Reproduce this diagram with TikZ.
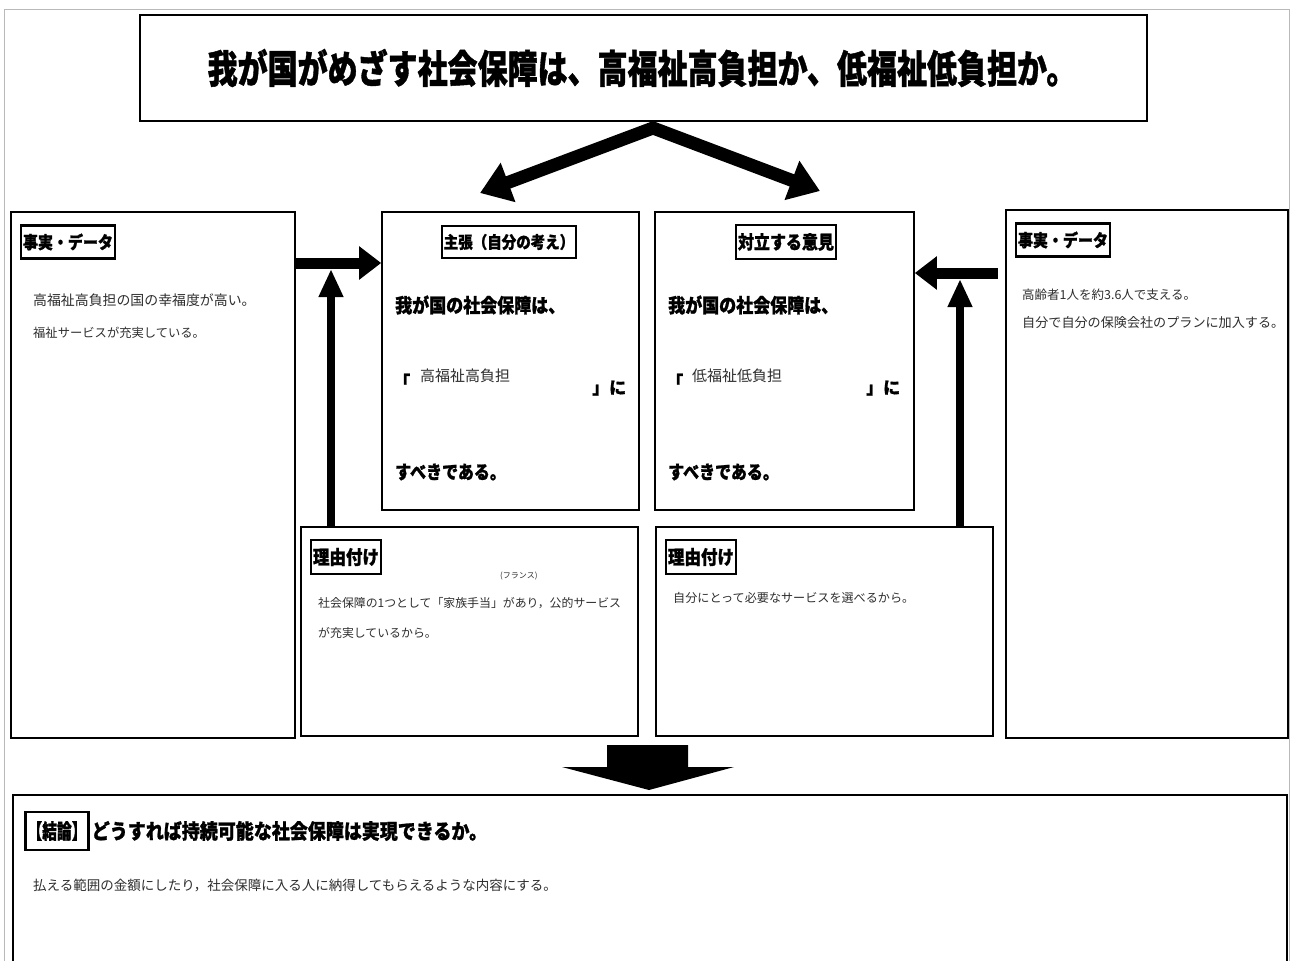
\documentclass[tikz,border=0pt]{standalone}
\usepackage{fontspec}
\setmainfont{Noto Sans CJK JP}
\usetikzlibrary{arrows.meta}
\newcommand\fsz[1]{\fontsize{#1pt}{#1pt}\selectfont}
\newcommand\heavy{\bfseries\addfontfeature{FakeBold=1.2}}
\begin{document}
\begin{tikzpicture}[x=1pt,y=-1pt,
  frame/.style={draw,line width=1.6pt,inner sep=0pt},
  lab/.style={draw,line width=2.2pt,inner xsep=2pt,inner ysep=8pt},
  hand/.style={anchor=west,inner sep=0pt,text=black!82},
  bold/.style={anchor=west,inner sep=0pt},
  bigarrow/.style={line width=13pt,line join=miter,{Triangle[length=30pt,width=40pt]}-{Triangle[length=30pt,width=40pt]}},
  harrow/.style={line width=11pt,-{Triangle[length=22pt,width=32pt]}},
  varrow/.style={line width=7.5pt,-{Triangle[length=28pt,width=23pt]}}]
\useasboundingbox (0,0) rectangle (1291,961);
\clip (0,0) rectangle (1291,961);
\fill[white] (0,0) rectangle (1291,961);
\draw[gray!55,line width=1pt] (4,9) rectangle (1289,975);

% title
\node[frame,minimum width=1007pt,minimum height=106pt] (title) at (643.5,68) {};
\node[font=\heavy\fsz{30}] (titletext) at (642,68) {\scalebox{1}[1.3]{我が国がめざす社会保障は、高福祉高負担か、低福祉低負担か。}};

% main boxes
\node[frame,minimum width=284pt,minimum height=526pt] (factL) at (153,475) {};
\node[frame,minimum width=257pt,minimum height=298pt] (claim) at (510.5,361) {};
\node[frame,minimum width=259pt,minimum height=298pt] (oppose) at (784.5,361) {};
\node[frame,minimum width=282pt,minimum height=528pt] (factR) at (1147,474) {};
\node[frame,minimum width=337pt,minimum height=209pt] (reasonL) at (469.5,631.5) {};
\node[frame,minimum width=337pt,minimum height=209pt] (reasonR) at (824.5,631.5) {};
\node[frame,minimum width=1274pt,minimum height=200pt] (concl) at (650,895) {};

% labels
\node[lab,font=\heavy\fsz{15}] (labFL) at (68,242) {\scalebox{1}[1.15]{事実・データ}};
\node[lab,font=\heavy\fsz{15}] (labFR) at (1063,240) {\scalebox{1}[1.15]{事実・データ}};
\node[lab,font=\heavy\fsz{14.5}] (labC) at (509,242) {\scalebox{1}[1.15]{主張（自分の考え）}};
\node[lab,font=\heavy\fsz{16}] (labO) at (786,242) {\scalebox{1}[1.15]{対立する意見}};
\node[lab,font=\heavy\fsz{16.5}] (labRL) at (346,557) {\scalebox{1}[1.15]{理由付け}};
\node[lab,font=\heavy\fsz{16.5}] (labRR) at (701,557) {\scalebox{1}[1.15]{理由付け}};
\node[lab,inner ysep=9pt,font=\heavy\fsz{18}] (labK) at (57,831) {\scalebox{0.82}[1.15]{【結論】}};
\node[bold,font=\heavy\fsz{18}] (concltitle) at ([xshift=2pt]labK.east) {\scalebox{1}[1.15]{どうすれば持続可能な社会保障は実現できるか。}};

% fact left
\node[hand,font=\fsz{13.9}] (fl1) at (33,300) {高福祉高負担の国の幸福度が高い。};
\node[hand,font=\fsz{12.3}] (fl2) at (33,333) {福祉サービスが充実している。};
% fact right
\node[hand,font=\fsz{12.5}] (fr1) at (1022,295) {高齢者1人を約3.6人で支える。};
\node[hand,font=\fsz{13.1}] (fr2) at (1022,323) {自分で自分の保険会社のプランに加入する。};

% claim
\node[bold,font=\heavy\fsz{17}] (c1) at (395,305) {\scalebox{1}[1.15]{我が国の社会保障は、}};
\node[bold,font=\heavy\fsz{17}] (c2) at (393,381) {「};
\node[hand,font=\fsz{15}] (c3) at (420,376) {高福祉高負担};
\node[bold,font=\heavy\fsz{17}] (c4) at (592,388) {」に};
\node[bold,font=\heavy\fsz{16}] (c5) at (395,472) {\scalebox{1}[1.15]{すべきである。}};
% oppose
\node[bold,font=\heavy\fsz{17}] (o1) at (668,305) {\scalebox{1}[1.15]{我が国の社会保障は、}};
\node[bold,font=\heavy\fsz{17}] (o2) at (666,381) {「};
\node[hand,font=\fsz{15}] (o3) at (692,376) {低福祉低負担};
\node[bold,font=\heavy\fsz{17}] (o4) at (866,388) {」に};
\node[bold,font=\heavy\fsz{16}] (o5) at (668,472) {\scalebox{1}[1.15]{すべきである。}};

% reasons
\node[hand,font=\fsz{8}] (ruby) at (500,576) {(フランス)};
\node[hand,font=\fsz{11.9}] (rl1) at (318,603) {社会保障の1つとして「家族手当」があり，公的サービス};
\node[hand,font=\fsz{11.9}] (rl2) at (318,633) {が充実しているから。};
\node[hand,font=\fsz{12.1}] (rr1) at (673,598) {自分にとって必要なサービスを選べるから。};

% conclusion text
\node[hand,font=\fsz{13.5}] (k1) at (33,886) {払える範囲の金額にしたり，社会保障に入る人に納得してもらえるような内容にする。};

% arrows
\coordinate (split) at (653,128);
\coordinate (tipL) at (480,193);
\coordinate (tipR) at (820,191);
\draw[bigarrow] (tipL) -- (split) -- (tipR);

\coordinate (hL) at (295,263);
\draw[harrow] (hL) -- (hL -| claim.west);
\coordinate (vL) at (331,269);
\draw[varrow] (vL |- reasonL.north) -- (vL);

\coordinate (hR) at (998,273);
\draw[harrow] (hR) -- (hR -| oppose.east);
\coordinate (vR) at (960,279);
\draw[varrow] (vR |- reasonR.north) -- (vR);

\fill (607,745) -- (688,745) -- (688,767) -- (734,767) -- (649,790) -- (562,767) -- (607,767) -- cycle;
\end{tikzpicture}
\end{document}
